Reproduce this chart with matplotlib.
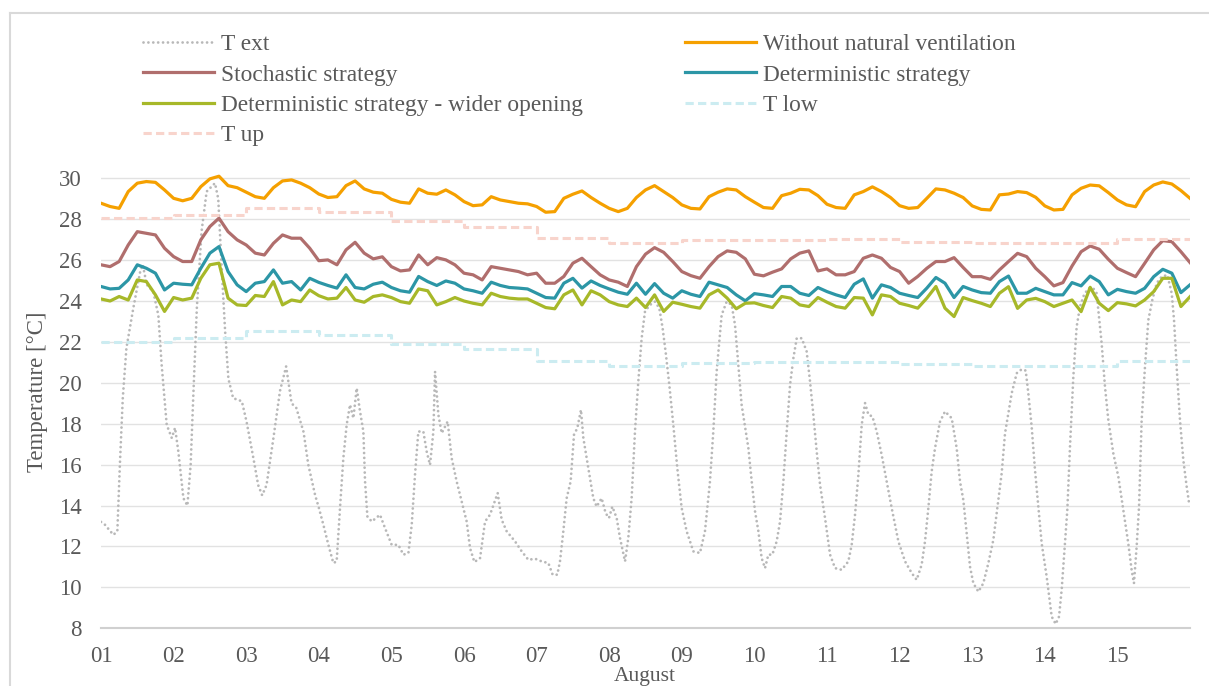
import numpy as np
import matplotlib
matplotlib.use("Agg")
import matplotlib.pyplot as plt
from matplotlib.lines import Line2D

plt.rcParams['font.family'] = ['Liberation Serif', 'DejaVu Serif']

# ---------------- data ----------------
# 3-hourly values from day 1 00:00 to day 16 00:00 (121 points)
without_nv = [
    28.78, 28.62, 28.53, 29.35, 29.76, 29.84, 29.80, 29.43,
    29.02, 28.90, 29.02, 29.59, 29.97, 30.10, 29.64, 29.54,
    29.32, 29.10, 29.02, 29.54, 29.87, 29.92, 29.76, 29.54,
    29.23, 29.06, 29.10, 29.64, 29.87, 29.48, 29.32, 29.27,
    28.97, 28.83, 28.78, 29.48, 29.27, 29.22, 29.43, 29.19,
    28.86, 28.66, 28.70, 29.10, 28.94, 28.86, 28.78, 28.75,
    28.62, 28.34, 28.37, 29.02, 29.22, 29.38, 29.06, 28.78,
    28.53, 28.37, 28.53, 29.06, 29.43, 29.64, 29.35, 29.06,
    28.70, 28.53, 28.50, 29.10, 29.32, 29.48, 29.43, 29.10,
    28.83, 28.57, 28.53, 29.15, 29.27, 29.46, 29.43, 29.15,
    28.73, 28.57, 28.53, 29.19, 29.35, 29.58, 29.35, 29.06,
    28.66, 28.53, 28.57, 29.02, 29.48, 29.43, 29.27, 29.06,
    28.65, 28.48, 28.45, 29.19, 29.23, 29.35, 29.30, 29.07,
    28.65, 28.45, 28.48, 29.19, 29.51, 29.67, 29.63, 29.30,
    28.94, 28.70, 28.61, 29.35, 29.67, 29.82, 29.72, 29.40,
    29.02,
]
stochastic = [
    25.77, 25.68, 25.93, 26.74, 27.39, 27.31, 27.23, 26.58,
    26.17, 25.93, 25.93, 26.99, 27.64, 28.05, 27.39, 26.99,
    26.74, 26.34, 26.25, 26.82, 27.23, 27.07, 27.07, 26.58,
    25.97, 26.01, 25.77, 26.50, 26.87, 26.34, 26.06, 26.16,
    25.68, 25.47, 25.52, 26.25, 25.77, 26.12, 26.01, 25.77,
    25.36, 25.28, 25.03, 25.68, 25.60, 25.52, 25.44, 25.28,
    25.36, 24.87, 24.87, 25.20, 25.85, 26.09, 25.68, 25.28,
    25.03, 24.92, 24.71, 25.68, 26.29, 26.61, 26.38, 25.93,
    25.44, 25.24, 25.11, 25.68, 26.17, 26.45, 26.38, 26.06,
    25.31, 25.23, 25.41, 25.57, 26.06, 26.34, 26.45, 25.47,
    25.57, 25.28, 25.28, 25.44, 26.09, 26.25, 26.09, 25.64,
    25.44, 24.87, 25.20, 25.60, 25.93, 25.93, 26.12, 25.64,
    25.19, 25.19, 25.06, 25.52, 25.93, 26.33, 26.17, 25.60,
    25.19, 24.74, 24.90, 25.71, 26.41, 26.69, 26.53, 26.04,
    25.60, 25.39, 25.19, 25.84, 26.50, 26.95, 26.90, 26.41,
    25.88,
]
deterministic = [
    24.71, 24.59, 24.62, 25.03, 25.77, 25.60, 25.36, 24.54,
    24.87, 24.82, 24.79, 25.60, 26.34, 26.66, 25.44, 24.79,
    24.46, 24.87, 24.95, 25.52, 24.87, 24.95, 24.54, 25.11,
    24.91, 24.76, 24.63, 25.28, 24.66, 24.59, 24.82, 24.92,
    24.66, 24.50, 24.43, 25.20, 24.95, 24.76, 24.98, 24.87,
    24.59, 24.50, 24.38, 24.92, 24.76, 24.66, 24.63, 24.59,
    24.38, 24.17, 24.14, 24.87, 25.11, 24.63, 24.98, 24.76,
    24.59, 24.43, 24.33, 24.87, 24.33, 24.85, 24.38, 24.14,
    24.50, 24.33, 24.22, 24.92, 24.79, 24.66, 24.30, 24.01,
    24.36, 24.30, 24.22, 24.71, 24.71, 24.38, 24.27, 24.66,
    24.46, 24.30, 24.17, 24.82, 25.08, 24.14, 24.79, 24.66,
    24.38, 24.27, 24.17, 24.63, 25.15, 24.87, 24.17, 24.71,
    24.54, 24.41, 24.38, 24.95, 25.22, 24.38, 24.38, 24.62,
    24.46, 24.30, 24.30, 24.90, 24.74, 25.22, 24.95, 24.30,
    24.57, 24.46, 24.38, 24.62, 25.19, 25.55, 25.36, 24.41,
    24.79,
]
wider_opening = [
    24.10, 24.00, 24.22, 24.05, 25.03, 24.95, 24.30, 23.49,
    24.17, 24.05, 24.14, 25.11, 25.77, 25.85, 24.14, 23.81,
    23.78, 24.27, 24.22, 24.95, 23.81, 24.05, 23.97, 24.54,
    24.26, 24.10, 24.14, 24.66, 24.05, 23.94, 24.22, 24.30,
    24.17, 23.97, 23.89, 24.59, 24.50, 23.81, 23.97, 24.17,
    24.00, 23.89, 23.81, 24.38, 24.22, 24.14, 24.10, 24.10,
    23.89, 23.68, 23.62, 24.30, 24.54, 23.81, 24.50, 24.30,
    23.97, 23.81, 23.73, 24.14, 23.68, 24.30, 23.49, 23.94,
    23.84, 23.73, 23.65, 24.30, 24.54, 24.14, 23.62, 23.89,
    23.91, 23.78, 23.68, 24.22, 24.14, 23.81, 23.73, 24.17,
    23.94, 23.73, 23.65, 24.17, 24.14, 23.32, 24.30, 24.22,
    23.89, 23.78, 23.65, 24.14, 24.71, 23.65, 23.24, 24.17,
    24.02, 23.89, 23.73, 24.38, 24.70, 23.64, 24.05, 24.13,
    23.97, 23.73, 23.89, 24.05, 23.48, 24.67, 23.89, 23.53,
    23.92, 23.86, 23.76, 24.05, 24.46, 25.11, 25.11, 23.73,
    24.21,
]

# outdoor temperature: (day, value)
t_ext_day = [
    1.000, 1.055, 1.170, 1.225, 1.260, 1.300, 1.350, 1.445, 1.540, 1.575,
    1.630, 1.720, 1.790, 1.835, 1.905, 1.975, 2.020, 2.065, 2.135, 2.190,
    2.235, 2.270, 2.320, 2.385, 2.455, 2.570, 2.615, 2.660, 2.710, 2.755,
    2.820, 2.940, 3.005, 3.100, 3.165, 3.220, 3.280, 3.375, 3.465, 3.550,
    3.625, 3.690, 3.790, 3.855, 3.950,
    4.000, 4.063, 4.132, 4.200, 4.246, 4.292, 4.338, 4.384, 4.430, 4.476,
    4.522, 4.568, 4.614, 4.637, 4.669, 4.729, 4.843, 4.912, 5.004, 5.096,
    5.165, 5.234, 5.280, 5.325, 5.371, 5.440, 5.486, 5.532, 5.578, 5.601,
    5.647, 5.693, 5.775, 5.830, 5.899, 5.968, 6.037, 6.083, 6.143, 6.221,
    6.290, 6.358, 6.464, 6.519, 6.588, 6.703, 6.795, 6.886,
    6.980, 7.070, 7.162, 7.221, 7.285, 7.322, 7.368, 7.414, 7.469, 7.515,
    7.561, 7.611, 7.644, 7.690, 7.735, 7.781, 7.827, 7.896, 7.951, 7.997,
    8.043, 8.103, 8.149, 8.218, 8.263, 8.309, 8.355, 8.401, 8.447, 8.493,
    8.562, 8.631, 8.690, 8.736, 8.782, 8.828, 8.883, 8.938, 8.998, 9.067,
    9.159, 9.250, 9.319, 9.388, 9.434, 9.480, 9.549, 9.618, 9.687, 9.733,
    9.779, 9.824,
    9.917, 9.963, 10.009, 10.055, 10.100, 10.146, 10.192, 10.247, 10.307,
    10.353, 10.399, 10.445, 10.491, 10.537, 10.583, 10.652, 10.720, 10.766,
    10.812, 10.858, 10.904, 10.973, 11.042, 11.111, 11.202, 11.294, 11.340,
    11.386, 11.432, 11.478, 11.524, 11.570, 11.625, 11.685, 11.753, 11.822,
    11.891, 11.983, 12.075, 12.167, 12.235, 12.304, 12.350, 12.396, 12.442,
    12.488, 12.557, 12.626, 12.718, 12.786, 12.832,
    12.878, 12.924, 12.970, 13.016, 13.085, 13.153, 13.222, 13.291, 13.360,
    13.406, 13.452, 13.498, 13.544, 13.613, 13.681, 13.737, 13.773, 13.819,
    13.865, 13.911, 13.957, 14.026, 14.095, 14.150, 14.196, 14.232, 14.278,
    14.310, 14.347, 14.393, 14.439, 14.485, 14.540, 14.600, 14.668, 14.714,
    14.737, 14.783, 14.829, 14.875, 14.944, 15.013, 15.082, 15.150, 15.196,
    15.228, 15.265, 15.298, 15.334, 15.380, 15.426, 15.481, 15.541, 15.610,
    15.688, 15.748, 15.780, 15.816, 15.862, 15.908, 15.954, 15.991,
]
t_ext = [
    13.20, 13.06, 12.57, 12.74, 16.00, 19.25, 21.70, 23.65, 25.44, 25.77,
    24.80, 24.46, 23.30, 20.90, 17.95, 17.30, 17.80, 16.65, 14.36, 14.00,
    16.00, 19.25, 23.65, 27.40, 29.35, 29.76, 29.00, 25.77, 22.50, 20.20,
    19.25, 19.10, 18.10, 16.30, 15.00, 14.50, 15.00, 17.30, 19.60, 20.80,
    19.00, 18.77, 17.60, 16.00, 14.50,
    13.90, 13.06, 12.08, 11.19, 11.27, 13.88, 16.32, 17.95, 18.93, 18.27,
    19.74, 18.60, 17.62, 15.18, 13.47, 13.22, 13.55, 12.90, 12.08, 12.08,
    11.60, 11.68, 13.06, 15.50, 17.62, 17.62, 16.64, 15.99, 17.62, 20.55,
    18.44, 17.54, 18.11, 16.32, 15.18, 14.20, 13.22, 11.92, 11.24, 11.43,
    13.22, 13.55, 14.61, 13.31, 12.74, 12.25, 11.76, 11.35,
    11.40, 11.27, 11.19, 10.62, 10.62, 11.27, 12.74, 14.36, 15.18, 17.46,
    17.79, 18.68, 17.30, 16.32, 15.34, 14.36, 13.95, 14.36, 13.63, 13.39,
    13.95, 13.39, 12.41, 11.27, 12.41, 14.36, 17.62, 20.07, 22.18, 23.49,
    23.81, 23.97, 23.65, 22.67, 21.37, 19.90, 17.95, 15.83, 13.88, 12.74,
    11.76, 11.68, 12.74, 15.18, 17.62, 20.55, 23.32, 23.97, 23.81, 22.83,
    20.88, 18.93,
    16.81, 15.18, 13.71, 12.74, 11.43, 10.94, 11.60, 11.60, 12.25,
    13.22, 15.18, 17.62, 19.90, 21.21, 22.18, 22.18, 21.53, 20.07,
    18.44, 16.65, 15.02, 13.39, 11.60, 10.94, 10.86, 11.27, 12.08,
    13.55, 15.50, 17.95, 19.01, 18.44, 18.36, 17.62, 16.48, 15.18,
    13.88, 12.25, 11.27, 10.70, 10.37, 11.11, 12.25, 13.88, 15.67,
    16.81, 18.11, 18.60, 18.27, 16.81, 15.18,
    14.27, 12.64, 11.01, 10.20, 9.79, 10.20, 11.18, 12.32, 14.27,
    15.58, 17.53, 18.51, 19.49, 20.47, 20.66, 20.60, 19.49, 17.86,
    15.74, 13.95, 12.15, 10.52, 8.57, 8.21, 8.57, 9.87, 12.15,
    13.78, 16.88, 20.30, 22.75, 23.73, 24.30, 24.62, 24.62, 24.38,
    23.56, 21.93, 19.81, 18.18, 16.55, 15.41, 13.78, 12.15, 10.85,
    10.20, 11.99, 13.95, 18.18, 20.79, 23.07, 24.05, 24.87, 25.19,
    25.27, 24.38, 23.07, 20.79, 18.18, 16.23, 14.93, 14.03,
]

# daily comfort limits (day 1 .. day 15)
limit_days = [1, 2, 3, 4, 5, 6, 7, 8, 9, 10, 11, 12, 13, 14, 15, 16]
t_up = [28.05, 28.22, 28.53, 28.33, 27.92, 27.63, 27.10, 26.82,
        26.99, 27.00, 27.02, 26.90, 26.82, 26.82, 27.03]
t_low = [22.00, 22.18, 22.54, 22.35, 21.90, 21.64, 21.07, 20.80,
         20.96, 21.00, 21.01, 20.90, 20.82, 20.82, 21.05]

x_ticks = list(range(1, 16))
x_tick_labels = ['01', '02', '03', '04', '05', '06', '07', '08',
                 '09', '10', '11', '12', '13', '14', '15']
y_ticks = list(range(8, 31, 2))

labels = ['T ext', 'Without natural ventilation', 'Stochastic strategy',
          'Deterministic strategy', 'Deterministic strategy - wider opening',
          'T low', 'T up']

# ---------------- style ----------------
W, H = 1209, 686
DPI = 100
TXT = '#595959'
FS = 16.5
FS_LEG = 16.8
c_ext = '#B8B8B8'
c_nv = '#F5A000'
c_sto = '#B06E6D'
c_det = '#2C96A6'
c_wide = '#A7B829'
c_low = '#CCECF1'
c_up = '#F8D4CC'

fig = plt.figure(figsize=(W / DPI, H / DPI), dpi=DPI)
ax = fig.add_axes([101 / W, 1 - 628.3 / H, 1089 / W, (628.3 - 166.0) / H])

n = len(without_nv)
t3h = 1 + np.arange(n) / 8.0

h_ext, = ax.plot(t_ext_day, t_ext, color=c_ext, lw=2.0,
                 linestyle=(0, (0.01, 1.75)), dash_capstyle='round',
                 label=labels[0])
h_nv, = ax.plot(t3h, without_nv, color=c_nv, lw=2.3, label=labels[1],
                solid_joinstyle='round')
h_sto, = ax.plot(t3h, stochastic, color=c_sto, lw=2.3, label=labels[2],
                 solid_joinstyle='round')
h_det, = ax.plot(t3h, deterministic, color=c_det, lw=2.3, label=labels[3],
                 solid_joinstyle='round')
h_wide, = ax.plot(t3h, wider_opening, color=c_wide, lw=2.3, label=labels[4],
                  solid_joinstyle='round')
h_low, = ax.step(limit_days, t_low + [t_low[-1]], where='post', color=c_low,
                 lw=2.2, linestyle=(0, (2.7, 1.4)), label=labels[5])
h_up, = ax.step(limit_days, t_up + [t_up[-1]], where='post', color=c_up,
                lw=2.2, linestyle=(0, (2.7, 1.4)), label=labels[6])

ax.set_xlim(1, 16)
ax.set_ylim(8, 30.6)
ax.set_xticks(x_ticks)
ax.set_xticklabels(x_tick_labels)
ax.set_yticks(y_ticks)
ax.tick_params(axis='both', length=0, labelsize=FS, labelcolor=TXT)
ax.tick_params(axis='x', pad=12.5)
ax.tick_params(axis='y', pad=14)

for y in y_ticks[1:]:
    ax.axhline(y, color='#E2E2E2', lw=1.0, zorder=0)
for s in ['top', 'right', 'left']:
    ax.spines[s].set_visible(False)
ax.spines['bottom'].set_color('#D0D0D0')
ax.spines['bottom'].set_linewidth(1.5)

ax.set_ylabel('Temperature [°C]', fontsize=FS, color=TXT)
ax.yaxis.set_label_coords(-0.049, 0.511)
fig.text(645 / W, 1 - 676 / H, 'August', fontsize=15.5, color=TXT,
         ha='center', va='center')

leg_kw = dict(frameon=False, borderpad=0, borderaxespad=0, fontsize=FS_LEG,
              handlelength=3.05, handletextpad=0.28, labelspacing=0.38,
              labelcolor=TXT)
leg1 = fig.legend(handles=[h_ext, h_sto, h_wide, h_up], loc='upper left',
                  bbox_to_anchor=(143 / W, 1 - 34 / H), **leg_kw)
leg2 = fig.legend(handles=[h_nv, h_det, h_low], loc='upper left',
                  bbox_to_anchor=(685 / W, 1 - 34 / H), **leg_kw)

# chart-area border
fig.add_artist(Line2D([10 / W, 10 / W], [0, 1 - 12.7 / H], color='#D9D9D9',
                      lw=1.5, transform=fig.transFigure))
fig.add_artist(Line2D([10 / W, 1], [1 - 12.7 / H, 1 - 12.7 / H],
                      color='#D9D9D9', lw=1.5, transform=fig.transFigure))

fig.savefig('out.png', dpi=DPI)
